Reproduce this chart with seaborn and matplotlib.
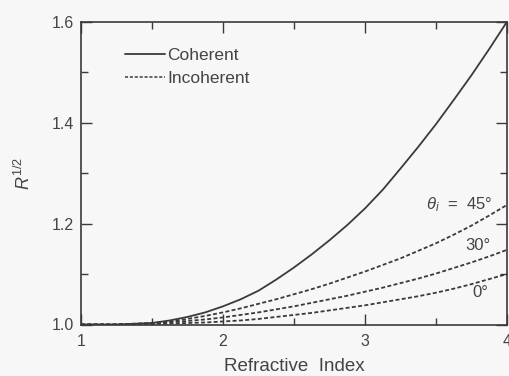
import numpy as np
import pandas as pd
import matplotlib
matplotlib.use("Agg")
import matplotlib.pyplot as plt
from matplotlib.lines import Line2D
from matplotlib.ticker import MultipleLocator
import seaborn as sns

# ---- data ----
n_index = [1.0, 1.25, 1.5, 1.625, 1.75, 1.875, 2.0, 2.125, 2.25, 2.375, 2.5, 2.625,
           2.75, 2.875, 3.0, 3.125, 3.25, 3.375, 3.5, 3.625, 3.75, 3.875, 4.0]
coherent = [1.000, 1.000, 1.003, 1.008, 1.015, 1.024, 1.036, 1.050, 1.067, 1.089, 1.113, 1.139,
            1.167, 1.197, 1.230, 1.267, 1.309, 1.352, 1.397, 1.445, 1.494, 1.546, 1.600]
incoh_45 = [1.000, 1.000, 1.003, 1.006, 1.011, 1.017, 1.024, 1.032, 1.041, 1.050, 1.060, 1.070,
            1.081, 1.093, 1.105, 1.118, 1.131, 1.146, 1.161, 1.178, 1.196, 1.216, 1.237]
incoh_30 = [1.000, 1.000, 1.002, 1.004, 1.007, 1.010, 1.014, 1.019, 1.024, 1.030, 1.036, 1.043,
            1.050, 1.057, 1.065, 1.073, 1.082, 1.091, 1.101, 1.112, 1.123, 1.135, 1.148]
incoh_0 = [1.000, 1.000, 1.001, 1.002, 1.003, 1.004, 1.006, 1.008, 1.011, 1.015, 1.019, 1.023,
           1.028, 1.033, 1.038, 1.044, 1.050, 1.056, 1.063, 1.071, 1.080, 1.090, 1.100]

series_names = ["Coherent", "45", "30", "0"]
angle_labels = [r"$\theta_i$  =  45°", "30°", "0°"]
x_ticks = [1, 2, 3, 4]
y_ticks = [1.0, 1.2, 1.4, 1.6]
y_ticklabels = ["1.0", "1.2", "1.4", "1.6"]
legend_labels = ["Coherent", "Incoherent"]

df = pd.concat([
    pd.DataFrame({"n": n_index, "R": vals, "series": name})
    for name, vals in zip(series_names, [coherent, incoh_45, incoh_30, incoh_0])
], ignore_index=True)

sns.set_style("ticks")
plt.rcParams["font.family"] = ["Liberation Sans", "DejaVu Sans"]
plt.rcParams["mathtext.fontset"] = "custom"
plt.rcParams["mathtext.rm"] = "Liberation Sans"
plt.rcParams["mathtext.it"] = "Liberation Sans:italic"

bg = "#f7f7f7"
ink = "#3a3a3a"
txt = "#444444"
dash = (0, (2.2, 1.3))

fig = plt.figure(figsize=(5.10, 3.76), dpi=100, facecolor=bg)
ax = fig.add_axes([81 / 510, 1 - 324.5 / 376, 426 / 510, 302.8 / 376])
ax.set_facecolor(bg)

sns.lineplot(data=df[df.series == "Coherent"], x="n", y="R", ax=ax,
             color=ink, lw=1.3, legend=False)
for name in ["45", "30", "0"]:
    sns.lineplot(data=df[df.series == name], x="n", y="R", ax=ax,
                 color=ink, lw=1.3, linestyle=dash, legend=False)

ax.set_xlim(1, 4)
ax.set_ylim(1.0, 1.6)
ax.set_xticks(x_ticks)
ax.set_yticks(y_ticks)
ax.set_yticklabels(y_ticklabels)
ax.xaxis.set_minor_locator(MultipleLocator(0.5))
ax.yaxis.set_minor_locator(MultipleLocator(0.1))
ax.tick_params(which="both", direction="in", top=True, right=True,
               color=ink, width=1.0, labelcolor=txt, labelsize=11.5)
ax.tick_params(which="major", length=8)
ax.tick_params(which="minor", length=5)
ax.tick_params(axis="x", pad=7)
ax.tick_params(axis="y", pad=5)
for s in ax.spines.values():
    s.set_color(ink)
    s.set_linewidth(1.2)

ax.set_xlabel("Refractive  Index", fontsize=13.5, color=txt, labelpad=6)
ax.set_ylabel(r"$R^{1/2}$", fontsize=13, color=txt, labelpad=13)

# curve labels
label_pos = [(3.9, 1.237), (3.88, 1.157), (3.866, 1.064)]
for lab, (xx, yy) in zip(angle_labels, label_pos):
    ax.text(xx, yy, lab, ha="right", va="center", fontsize=12, color=txt)

handles = [Line2D([], [], color=ink, lw=1.3),
           Line2D([], [], color=ink, lw=1.1, linestyle=(0, (2, 1.2)))]
ax.legend(handles, legend_labels, loc="upper left", bbox_to_anchor=(0.103, 0.912),
          frameon=False, fontsize=12.5, handlelength=2.3, handletextpad=0.15,
          borderpad=0, borderaxespad=0, labelspacing=0.45, labelcolor=txt)

fig.savefig("out.png", dpi=100, facecolor=bg)
